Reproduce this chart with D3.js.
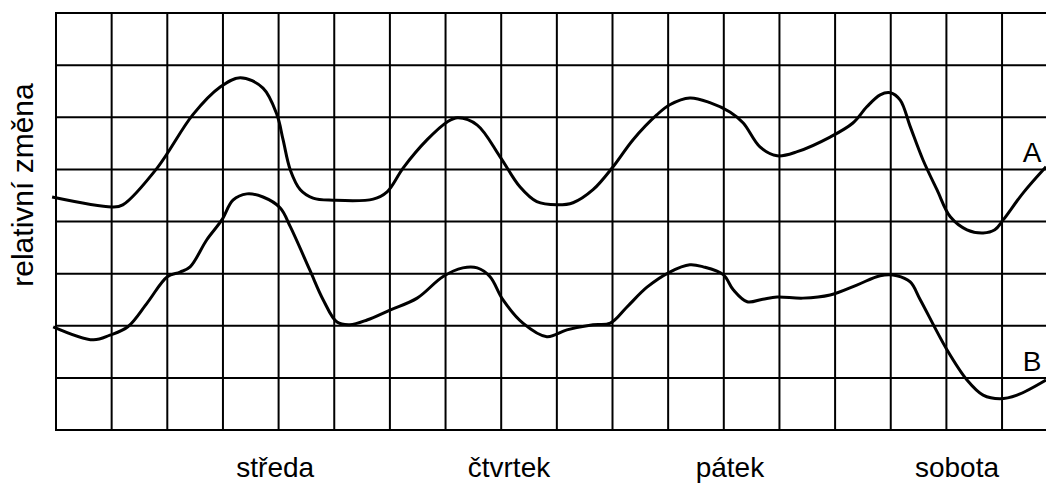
<!DOCTYPE html>
<html>
<head>
<meta charset="utf-8">
<script src="https://cdn.jsdelivr.net/npm/d3@7"></script>
<style>
  html, body { margin: 0; padding: 0; background: #fff; }
  text { font-family: "Liberation Sans", Arial, sans-serif; fill: #000; }
</style>
</head>
<body>
<div id="chart"></div>
<script>
// curve A, x in grid cells, y in grid cells from bottom
var xA = [-0.07, 1.01, 1.20, 1.82, 2.46, 2.95, 3.31, 3.72, 3.97, 4.08, 4.21, 4.39, 4.62, 4.98,
          5.70, 5.95, 6.24, 6.67, 7.03, 7.22, 7.57, 7.98, 8.34, 8.64, 9.00, 9.29, 9.65, 10.01,
          10.37, 10.80, 11.03, 11.39, 11.75, 12.11, 12.35, 12.65, 12.96, 13.32, 13.91, 14.32,
          14.57, 14.81, 14.99, 15.17, 15.35, 15.58, 15.83, 16.07, 16.37, 16.66, 16.87, 17.02,
          17.38, 17.79];
var yA = [4.47, 4.28, 4.32, 5.03, 6.05, 6.58, 6.76, 6.56, 6.05, 5.57, 4.99, 4.61, 4.45, 4.41,
          4.43, 4.57, 5.03, 5.57, 5.91, 5.99, 5.85, 5.24, 4.66, 4.38, 4.32, 4.36, 4.61, 5.05,
          5.57, 6.05, 6.24, 6.37, 6.28, 6.10, 5.89, 5.43, 5.26, 5.34, 5.62, 5.89,
          6.20, 6.43, 6.47, 6.33, 5.82, 5.18, 4.61, 4.09, 3.84, 3.78, 3.84, 4.03,
          4.55, 5.05];

// curve B
var xB = [-0.05, 0.67, 0.97, 1.29, 1.64, 2.00, 2.23, 2.41, 2.71, 2.98, 3.18, 3.43, 3.72, 4.03,
          4.21, 4.56, 4.80, 5.05, 5.28, 5.59, 6.00, 6.49, 6.95, 7.31, 7.57, 7.80, 8.03, 8.39,
          8.82, 9.18, 9.65, 9.96, 10.26, 10.62, 11.03, 11.39, 11.63, 11.99, 12.17, 12.42,
          12.70, 12.96, 13.42, 13.91, 14.39, 14.81, 15.11, 15.35, 15.53, 16.01, 16.37, 16.66,
          16.96, 17.27, 17.79];
var yB = [1.98, 1.73, 1.82, 1.98, 2.44, 2.94, 3.03, 3.13, 3.65, 4.03, 4.41, 4.53, 4.47, 4.26,
          3.90, 3.07, 2.50, 2.07, 2.02, 2.11, 2.30, 2.53, 2.94, 3.11, 3.11, 2.94, 2.50, 2.05,
          1.79, 1.92, 2.02, 2.05, 2.36, 2.74, 3.03, 3.17, 3.13, 2.98, 2.69, 2.46,
          2.51, 2.55, 2.53, 2.59, 2.78, 2.96, 2.96, 2.84, 2.50, 1.54, 0.96, 0.67,
          0.60, 0.67, 0.96];

var days = ["středa", "čtvrtek", "pátek", "sobota"];
var dayPos = [3.94, 8.14, 12.11, 16.19];
var seriesNames = ["A", "B"];

var W = 1046, H = 485;
var svg = d3.select("#chart").append("svg")
    .attr("width", W)
    .attr("height", H);

var x = d3.scaleLinear().domain([0, 18]).range([56, 56 + 18 * 55.65]);
var y = d3.scaleLinear().domain([0, 8]).range([430, 13]);

// grid
var grid = svg.append("g").attr("stroke", "#000").attr("stroke-width", 2);
grid.selectAll("line.h")
    .data(d3.range(0, 9))
    .enter().append("line")
    .attr("class", "h")
    .attr("x1", x(0) - 1).attr("x2", W)
    .attr("y1", function(d) { return y(d); })
    .attr("y2", function(d) { return y(d); });
grid.selectAll("line.v")
    .data(d3.range(0, 18))
    .enter().append("line")
    .attr("class", "v")
    .attr("x1", function(d) { return x(d); })
    .attr("x2", function(d) { return x(d); })
    .attr("y1", y(8)).attr("y2", y(0));

// curves
var line = d3.line()
    .x(function(d) { return x(d[0]); })
    .y(function(d) { return y(d[1]); })
    .curve(d3.curveCatmullRom.alpha(0.5));

[[xA, yA], [xB, yB]].forEach(function(s) {
  svg.append("path")
     .datum(d3.zip(s[0], s[1]))
     .attr("fill", "none")
     .attr("stroke", "#000")
     .attr("stroke-width", 3)
     .attr("stroke-linejoin", "round")
     .attr("d", line);
});

// series letters
svg.append("text").attr("x", 1032).attr("y", 162)
   .attr("text-anchor", "middle").style("font-size", "28px").text(seriesNames[0]);
svg.append("text").attr("x", 1032).attr("y", 371)
   .attr("text-anchor", "middle").style("font-size", "28px").text(seriesNames[1]);

// day labels
svg.selectAll("text.day")
   .data(days)
   .enter().append("text")
   .attr("class", "day")
   .attr("x", function(d, i) { return x(dayPos[i]); })
   .attr("y", 477)
   .attr("text-anchor", "middle")
   .style("font-size", "28px")
   .text(function(d) { return d; });

// y axis title
svg.append("text")
   .attr("text-anchor", "middle")
   .attr("transform", "translate(33,185)rotate(-90)")
   .style("font-size", "30px")
   .text("relativní změna");
</script>
</body>
</html>
